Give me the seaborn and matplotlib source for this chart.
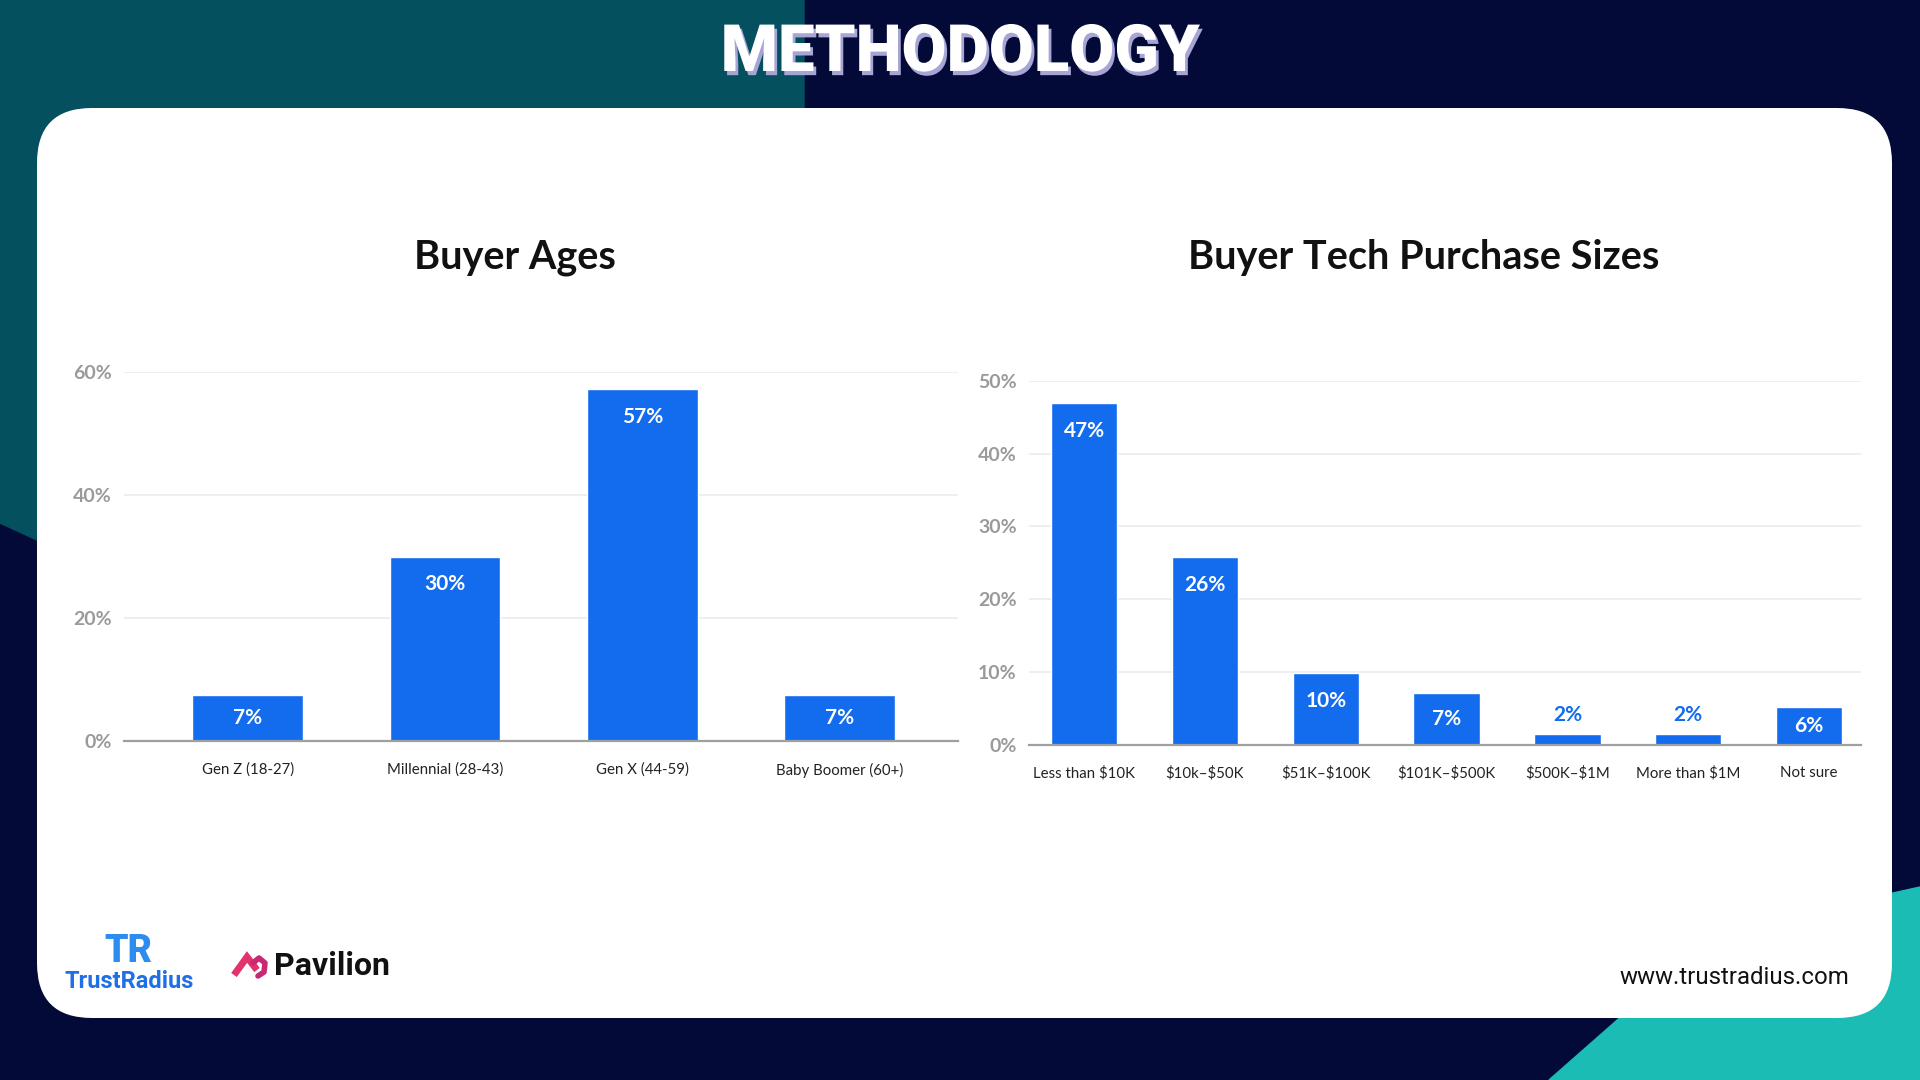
import numpy as np
import pandas as pd
import matplotlib
matplotlib.use('Agg')
import matplotlib.pyplot as plt
import matplotlib.patheffects as pe
from matplotlib.patches import FancyBboxPatch, Polygon
import seaborn as sns

# data
age_groups = ['Gen Z (18-27)', 'Millennial (28-43)', 'Gen X (44-59)', 'Baby Boomer (60+)']
age_pct = [7.5, 30, 57.2, 7.5]
age_labels = ['7%', '30%', '57%', '7%']
age_ticks = [0, 20, 40, 60]

purchase_sizes = ['Less than $10K', '$10k–$50K', '$51K–$100K', '$101K–$500K',
                  '$500K–$1M', 'More than $1M', 'Not sure']
purchase_pct = [47, 25.8, 9.9, 7.1, 1.4, 1.4, 5.1]
purchase_labels = ['47%', '26%', '10%', '7%', '2%', '2%', '6%']
purchase_ticks = [0, 10, 20, 30, 40, 50]

BLUE = '#136cee'
NAVY = '#030a37'
TEAL = '#05505f'
GREEN = '#1abcb4'

sns.set_style('white')
plt.rcParams['font.family'] = ['Lato', 'DejaVu Sans']

fig = plt.figure(figsize=(19.2, 10.8), dpi=100)

# background, card and decorations in pixel coordinates
ax_bg = fig.add_axes([0, 0, 1, 1])
ax_bg.set_xlim(0, 1920)
ax_bg.set_ylim(1080, 0)
ax_bg.axis('off')
ax_bg.add_patch(Polygon([(0, 0), (1920, 0), (1920, 1080), (0, 1080)], color=NAVY))
ax_bg.add_patch(Polygon([(0, 0), (804, 0), (804, 620), (200, 615), (0, 523)], color=TEAL))
ax_bg.add_patch(Polygon([(1549, 1080), (1640, 1000), (1850, 900), (1893, 893), (1920, 887),
                         (1920, 1080)], color=GREEN))
ax_bg.add_patch(FancyBboxPatch((37, 108), 1855, 910, boxstyle='round,pad=0,rounding_size=55',
                               fc='white', ec='none'))

ax_bg.text(960, 53, 'METHODOLOGY', color='white', fontsize=47, fontweight='heavy',
           family=['Roboto', 'DejaVu Sans'], ha='center', va='center',
           path_effects=[pe.withSimplePatchShadow(offset=(2, -3), shadow_rgbFace='#a7a5d6', alpha=1)])

ax_bg.text(515, 258, 'Buyer Ages', fontsize=28.5, fontweight='bold', color='#111111',
           ha='center', va='center')
ax_bg.text(1424, 258, 'Buyer Tech Purchase Sizes', fontsize=28.5, fontweight='bold', color='#111111',
           ha='center', va='center')

# logos
ax_bg.text(128, 952, 'TR', fontsize=27, fontweight='heavy', color='#2d8cf0', ha='center',
           va='center', family=['Roboto', 'DejaVu Sans'])
ax_bg.text(129, 982, 'TrustRadius', fontsize=17, fontweight='bold', color='#1f6fe6',
           ha='center', va='center', family=['Roboto', 'DejaVu Sans'])
ax_bg.plot([234, 247, 257], [975, 957, 970], color='#e2336a', lw=5, solid_capstyle='butt',
           solid_joinstyle='miter')
ax_bg.plot([253, 259, 265, 264, 258], [963, 958, 963, 972, 976], color='#c72a72', lw=4)
ax_bg.text(274, 966, 'Pavilion', fontsize=23, fontweight='bold', color='#111111',
           ha='left', va='center', family=['Roboto', 'DejaVu Sans'])
ax_bg.text(1849, 977, 'www.trustradius.com', fontsize=17.3, color='#111111', ha='right',
           va='center', family=['Roboto', 'DejaVu Sans'])


def draw_chart(rect, cats, vals, labels, ticks, xlim, bar_width, label_off):
    ax = fig.add_axes(rect)
    ax.patch.set_alpha(0)
    df = pd.DataFrame({'cat': cats, 'pct': vals})
    sns.barplot(data=df, x='cat', y='pct', ax=ax, color=BLUE, saturation=1, width=bar_width)
    ax.set_xlim(*xlim)
    ax.set_ylim(0, ticks[-1])
    ax.set_yticks(ticks)
    ax.set_yticklabels([f'{t}%' for t in ticks], color='#9a9a9a', fontsize=14, fontweight='bold')
    ax.set_xticks(range(len(cats)))
    ax.set_xticklabels([c.replace('$', r'\$') for c in cats], fontsize=10.8, color='#222222')
    ax.tick_params(axis='x', length=0, pad=15.5)
    ax.tick_params(axis='y', length=0, pad=9)
    ax.set_xlabel('')
    ax.set_ylabel('')
    ax.set_axisbelow(True)
    ax.yaxis.grid(True, color='#ebebeb', lw=1.2)
    for s in ['top', 'right', 'left']:
        ax.spines[s].set_visible(False)
    ax.spines['bottom'].set_color('#9f9f9f')
    ax.spines['bottom'].set_linewidth(1.6)
    ax.spines['bottom'].set_zorder(5)

    for i, (v, lab) in enumerate(zip(vals, labels)):
        y0 = ax.transData.transform((i, 0))[1]
        y1 = ax.transData.transform((i, v))[1]
        if y1 - y0 < 25:
            ax.annotate(lab, (i, v), xytext=(0, 19), textcoords='offset pixels', ha='center',
                        va='center', color=BLUE, fontsize=15, fontweight='bold')
        else:
            ypos = max((y0 + y1) / 2, y1 - label_off)
            ax.annotate(lab, (i, v), xytext=(0, ypos - y1), textcoords='offset pixels',
                        ha='center', va='center', color='white', fontsize=15, fontweight='bold')
    return ax


draw_chart([124 / 1920, 1 - 741 / 1080, 834 / 1920, 369 / 1080], age_groups, age_pct, age_labels,
           age_ticks, (-0.627, 3.6), 0.56, 28)
draw_chart([1029 / 1920, 1 - 744.5 / 1080, 832 / 1920, 363.5 / 1080], purchase_sizes, purchase_pct,
           purchase_labels, purchase_ticks, (-0.456, 6.43), 0.55, 28)

fig.savefig('out.png', dpi=100)
